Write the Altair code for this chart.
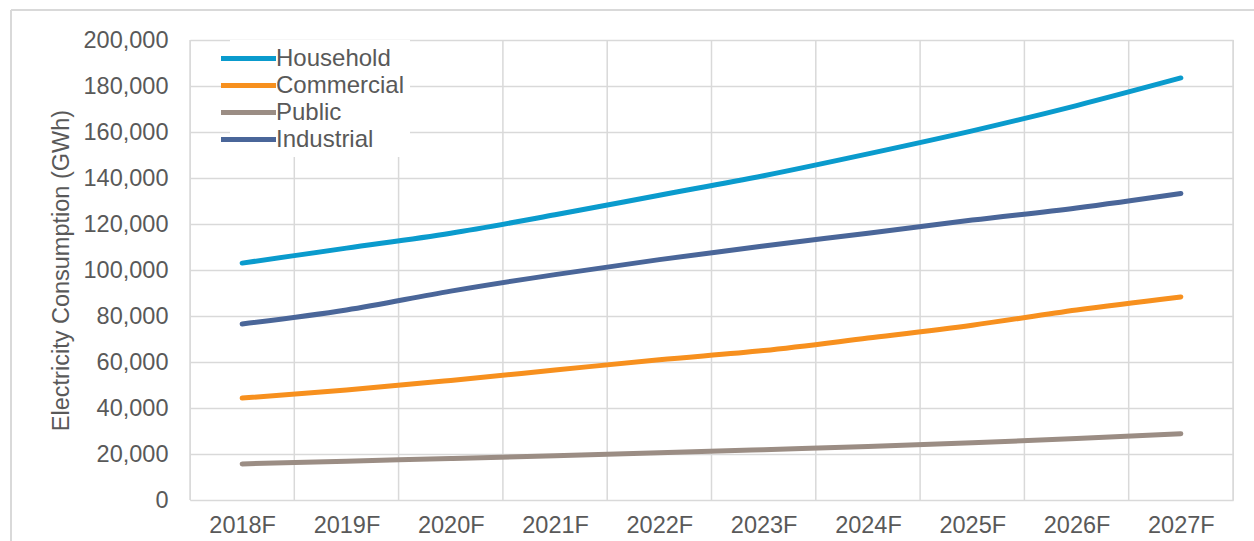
import altair as alt
import pandas as pd

years = ["2018F", "2019F", "2020F", "2021F", "2022F", "2023F", "2024F", "2025F", "2026F", "2027F"]
household = [103000, 109500, 116000, 124000, 132500, 141000, 150500, 160500, 171500, 183500]
commercial = [44300, 47800, 52000, 56500, 61000, 65000, 70400, 76000, 82600, 88300]
public = [15700, 16900, 18000, 19200, 20500, 21900, 23300, 24900, 26700, 28800]
industrial = [76500, 82600, 90800, 98000, 104500, 110400, 116000, 121700, 127000, 133300]

series_names = ["Household", "Commercial", "Public", "Industrial"]
series_colors = ["#0A9BCD", "#F7901E", "#9B8D84", "#4A6699"]
y_ticks = list(range(0, 200001, 20000))

rows = []
for name, vals in zip(series_names, [household, commercial, public, industrial]):
    for i, (yr, v) in enumerate(zip(years, vals)):
        rows.append({"i": i, "year": yr, "series": name, "value": v})
df = pd.DataFrame(rows)

edges = pd.DataFrame({"e": [k - 0.5 for k in range(len(years) + 1)]})

GRID = "#D9D9D9"
TXT = "#595959"
FONT = "Liberation Sans"

label_expr = "[" + ",".join(f"'{y}'" for y in years) + "][datum.value]"

x_scale = alt.Scale(domain=[-0.5, len(years) - 0.5], nice=False, zero=False)
x_axis = alt.Axis(values=list(range(len(years))), labelExpr=label_expr, grid=False,
                  ticks=False, domain=False, title=None, labelPadding=13)
y_axis = alt.Axis(values=y_ticks, format=",.0f", grid=True, ticks=False, domain=False,
                  title="Electricity Consumption (GWh)", titlePadding=10, labelPadding=22)

lines = alt.Chart(df).mark_line(strokeWidth=5, interpolate="monotone", strokeCap="round").encode(
    x=alt.X("i:Q", scale=x_scale, axis=x_axis),
    y=alt.Y("value:Q", scale=alt.Scale(domain=[0, 200000], nice=False), axis=y_axis),
    color=alt.Color("series:N", sort=series_names,
                    scale=alt.Scale(domain=series_names, range=series_colors),
                    legend=alt.Legend(orient="none", legendX=40, legendY=0, title=None,
                                      symbolType="M-2.5,0L2.5,0", symbolSize=484,
                                      symbolStrokeWidth=5, labelFontSize=24, labelFont=FONT,
                                      labelColor=TXT, labelOffset=14, rowPadding=1,
                                      padding=5, fillColor="white")),
    order=alt.Order("i:Q"),
)

vgrid = alt.Chart(edges).mark_rule(color=GRID, strokeWidth=1.5).encode(
    x=alt.X("e:Q", scale=x_scale, axis=x_axis)
)

left_border = alt.Chart(edges).mark_rule(color=GRID, strokeWidth=1.5).encode(
    x=alt.value(-179), y=alt.value(-30), y2=alt.value(620)
)
top_border = alt.Chart(edges).mark_rule(color=GRID, strokeWidth=1.5).encode(
    x=alt.value(-179), x2=alt.value(1200), y=alt.value(-30)
)

chart = alt.layer(vgrid, lines, left_border, top_border).properties(
    width=1043, height=460,
    autosize=alt.AutoSizeParams(type="none"),
    padding={"left": 190, "top": 40, "right": 21, "bottom": 41},
).configure_view(stroke=None).configure(background="white").configure_axis(
    labelFontSize=23.5, labelFont=FONT, labelColor=TXT, titleFontSize=23.5, titleFont=FONT,
    titleColor=TXT, titleFontWeight="normal", gridColor=GRID, gridWidth=1.5
)

chart.save("out.html", embed_options={"renderer": "svg", "actions": False})
